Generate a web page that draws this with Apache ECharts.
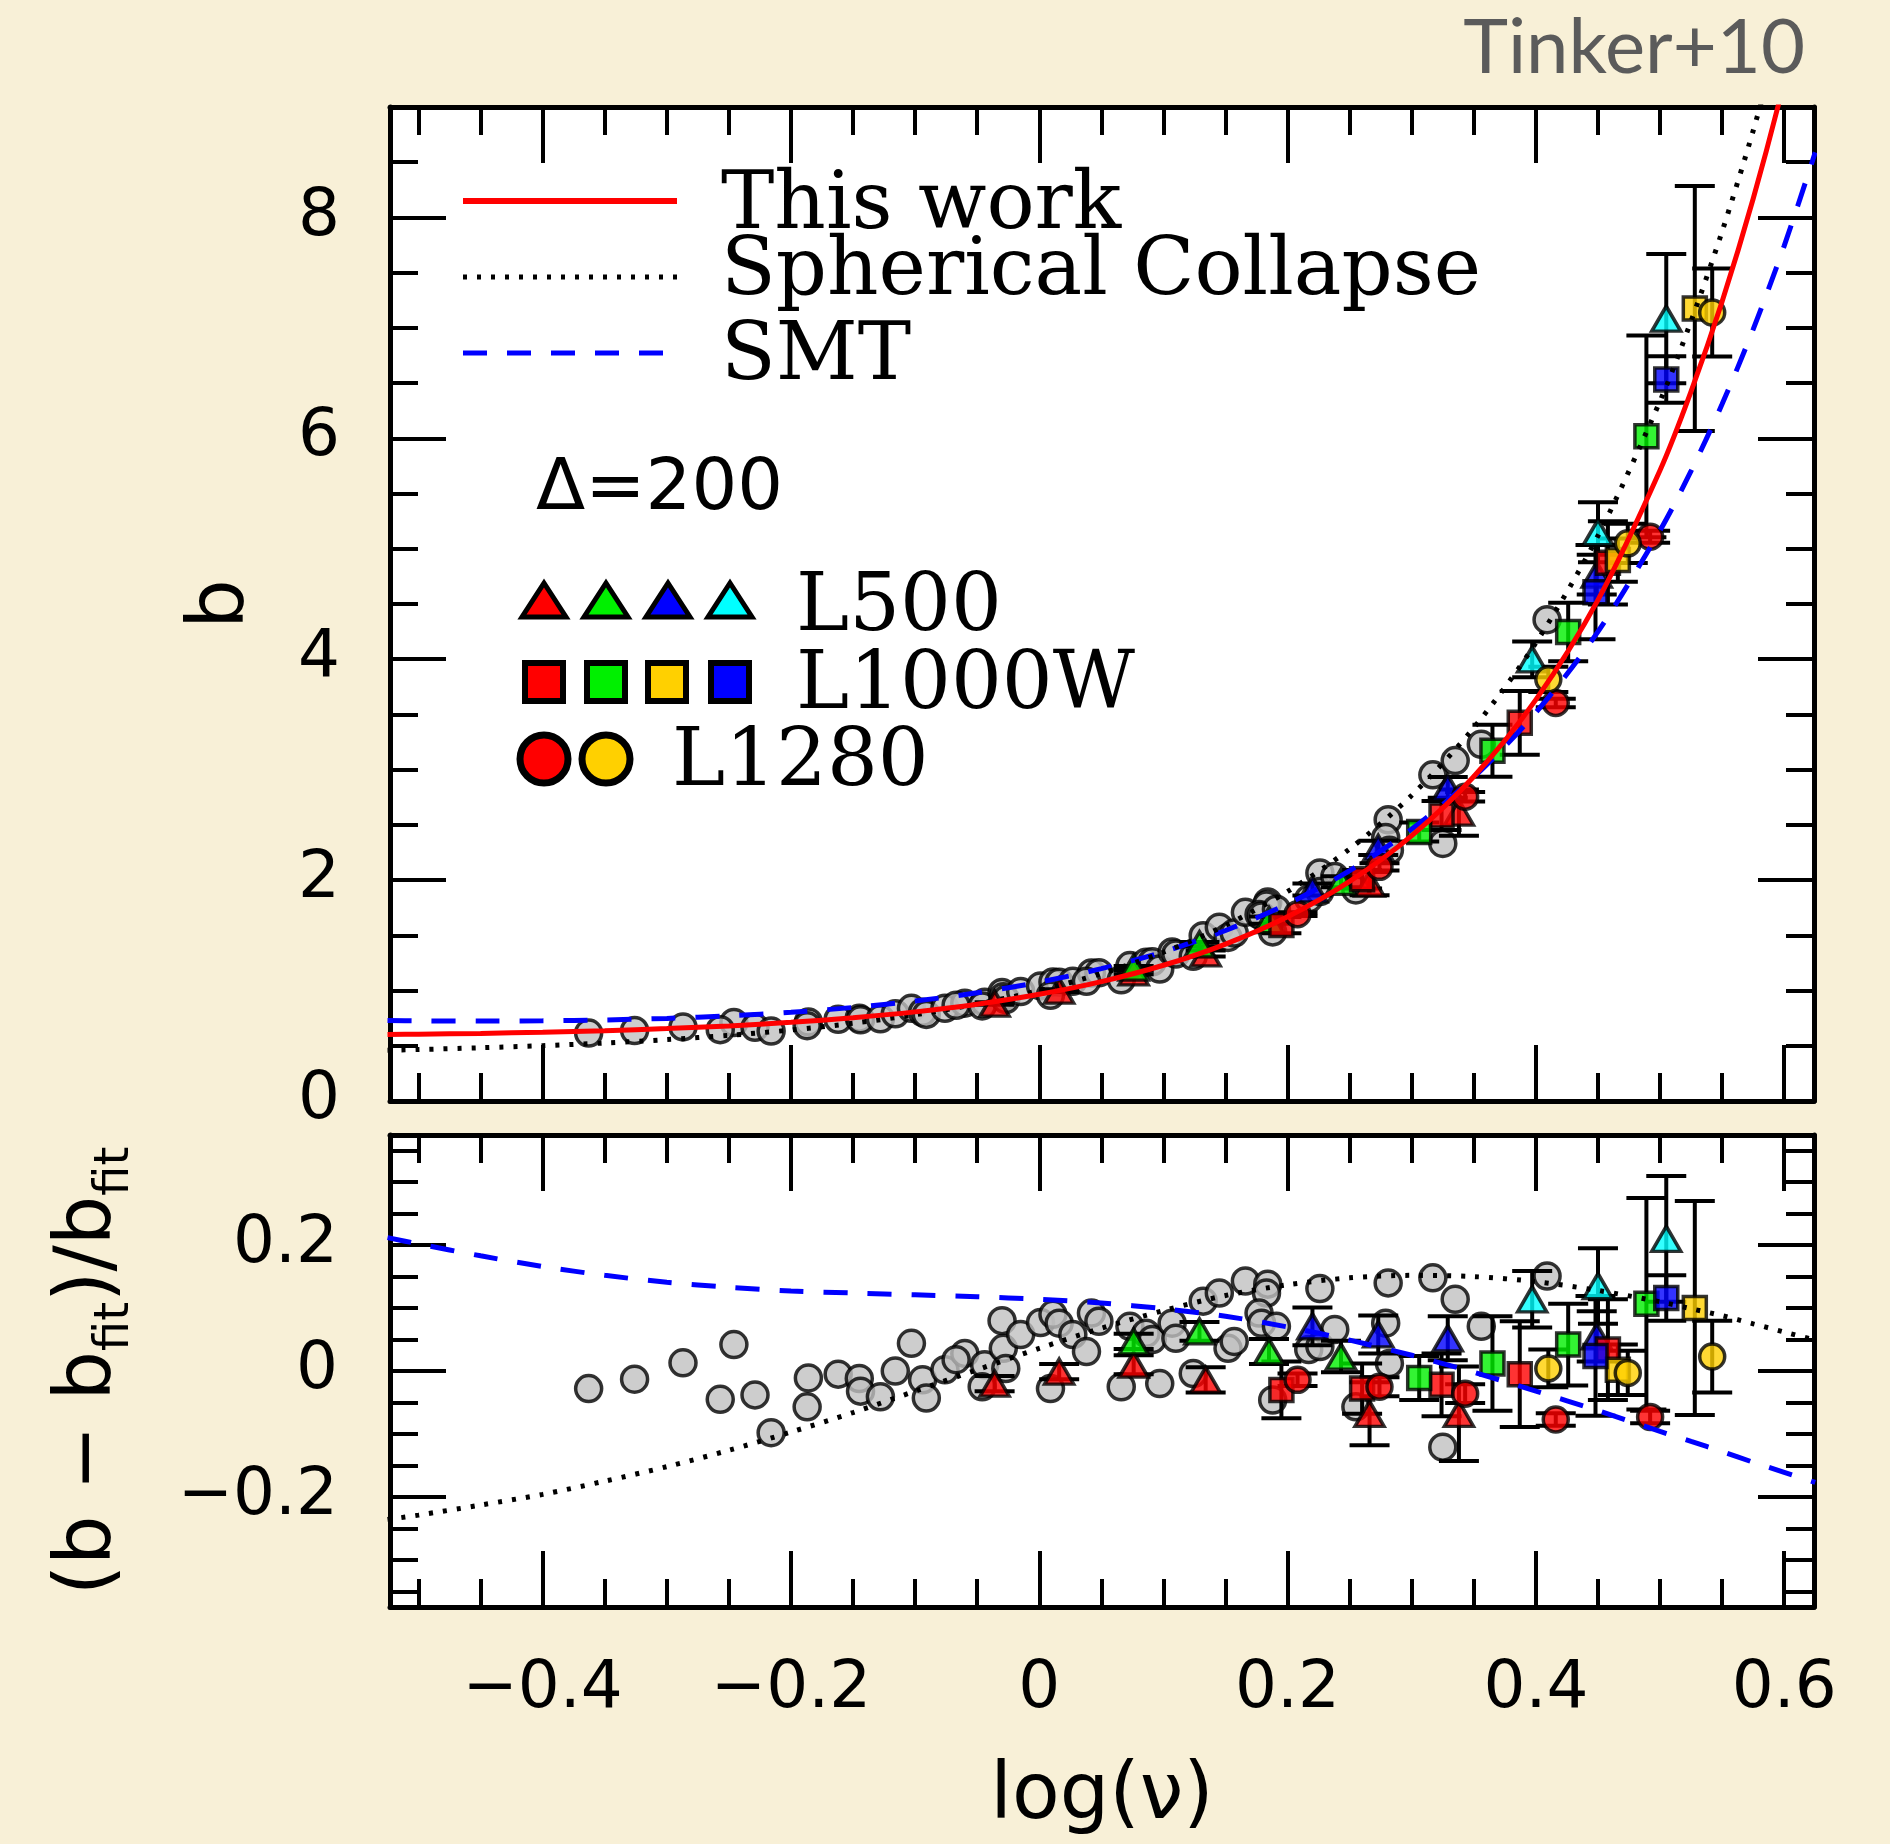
<!DOCTYPE html>
<html>
<head>
<meta charset="utf-8">
<title>Halo bias vs peak height</title>
<script src="https://cdn.jsdelivr.net/npm/echarts@6/dist/echarts.min.js"></script>
<style>
  html, body { margin: 0; padding: 0; background: #f8f0d7; }
  #chart { width: 1890px; height: 1844px; }
</style>
</head>
<body>
<div id="chart"></div>
<script>
// ---------------- data ----------------
// axis ticks (log nu, bias b, residual)
const logNuTicks = [-0.4, -0.2, 0, 0.2, 0.4, 0.6];
const logNuMinorTicks = [-0.5, -0.45, -0.35, -0.3, -0.25, -0.15, -0.1, -0.05, 0.05, 0.1, 0.15, 0.25, 0.3, 0.35, 0.45, 0.5, 0.55];
const biasTicks = [0, 2, 4, 6, 8];
const biasMinorTicks = [0.5, 1, 1.5, 2.5, 3, 3.5, 4.5, 5, 5.5, 6.5, 7, 7.5, 8.5];
const residTicks = [-0.2, 0, 0.2];
const residMinorTicks = [-0.35, -0.3, -0.25, -0.15, -0.1, -0.05, 0.05, 0.1, 0.15, 0.25, 0.3, 0.35];

// model curves sampled in log(nu)
const curveLogNu = [-0.525, -0.5, -0.45, -0.4, -0.35, -0.3, -0.25, -0.2, -0.15, -0.1, -0.05, 0, 0.05, 0.1, 0.15, 0.2, 0.25, 0.3, 0.35, 0.4, 0.45, 0.5, 0.525, 0.55, 0.575, 0.6, 0.625];
const fitBias = [0.602, 0.605, 0.612, 0.623, 0.637, 0.656, 0.680, 0.712, 0.754, 0.807, 0.876, 0.966, 1.081, 1.229, 1.421, 1.668, 1.988, 2.402, 2.938, 3.634, 4.537, 5.711, 6.425, 7.239, 8.169, 9.229, 10.44];
const scBias = [0.460, 0.466, 0.482, 0.501, 0.525, 0.556, 0.594, 0.643, 0.704, 0.781, 0.878, 1.000, 1.154, 1.347, 1.590, 1.897, 2.282, 2.768, 3.380, 4.149, 5.118, 6.338, 7.062, 7.874, 8.785, 9.805, 10.954];
const smtBias = [0.729, 0.726, 0.724, 0.726, 0.734, 0.748, 0.771, 0.803, 0.847, 0.905, 0.980, 1.076, 1.198, 1.351, 1.544, 1.785, 2.086, 2.462, 2.932, 3.518, 4.250, 5.166, 5.706, 6.310, 6.987, 7.743, 8.589];
const scResid = [-0.236, -0.229, -0.213, -0.196, -0.175, -0.152, -0.126, -0.097, -0.066, -0.032, 0.002, 0.036, 0.068, 0.096, 0.120, 0.137, 0.148, 0.152, 0.150, 0.142, 0.128, 0.110, 0.099, 0.088, 0.075, 0.062, 0.049];
const smtResid = [0.212, 0.202, 0.183, 0.166, 0.152, 0.141, 0.133, 0.127, 0.124, 0.121, 0.118, 0.114, 0.108, 0.099, 0.087, 0.070, 0.049, 0.025, -0.002, -0.032, -0.063, -0.096, -0.112, -0.128, -0.145, -0.161, -0.177];

// grey halo samples: [log nu, b, (b - b_fit)/b_fit]
const greyHalos = [
  [-0.363, 0.615, -0.028], [-0.326, 0.638, -0.013], [-0.287, 0.671, 0.013], [-0.246, 0.711, 0.042],
  [-0.257, 0.646, -0.045], [-0.229, 0.667, -0.038], [-0.216, 0.633, -0.098], [-0.186, 0.716, -0.011],
  [-0.187, 0.682, -0.057], [-0.162, 0.740, -0.005], [-0.145, 0.750, -0.012], [-0.144, 0.736, -0.032],
  [-0.128, 0.745, -0.041], [-0.116, 0.790, 0.000], [-0.103, 0.839, 0.044], [-0.094, 0.804, -0.014],
  [-0.091, 0.784, -0.043], [-0.076, 0.840, 0.002], [-0.060, 0.886, 0.028], [-0.067, 0.867, 0.018],
  [-0.044, 0.895, 0.010], [-0.046, 0.861, -0.025], [-0.030, 0.982, 0.080], [-0.029, 0.944, 0.036],
  [-0.027, 0.918, 0.004], [-0.015, 0.991, 0.058], [0.001, 1.042, 0.077], [0.011, 1.078, 0.090],
  [0.016, 1.076, 0.076], [0.027, 1.084, 0.058], [0.009, 0.957, -0.028], [0.042, 1.159, 0.092],
  [0.048, 1.161, 0.079], [0.038, 1.084, 0.031], [0.066, 1.097, -0.025], [0.073, 1.226, 0.071],
  [0.086, 1.256, 0.060], [0.091, 1.261, 0.050], [0.097, 1.195, -0.020], [0.107, 1.350, 0.076],
  [0.110, 1.331, 0.052], [0.124, 1.310, -0.004], [0.132, 1.497, 0.111], [0.145, 1.574, 0.124],
  [0.152, 1.481, 0.036], [0.157, 1.521, 0.047], [0.166, 1.708, 0.143], [0.184, 1.802, 0.138],
  [0.183, 1.774, 0.124], [0.177, 1.689, 0.092], [0.179, 1.676, 0.076], [0.191, 1.736, 0.071],
  [0.188, 1.531, -0.046], [0.226, 2.064, 0.131], [0.217, 1.830, 0.034], [0.226, 1.896, 0.039],
  [0.238, 2.032, 0.066], [0.281, 2.547, 0.140], [0.317, 2.953, 0.148], [0.335, 3.082, 0.114],
  [0.279, 2.385, 0.076], [0.282, 2.270, 0.012], [0.255, 1.911, -0.057], [0.325, 2.332, -0.121],
  [0.356, 3.230, 0.071], [0.409, 4.358, 0.151]
];

// simulation sets: [log nu, b, b error, resid, resid error]
const L500_red = [
  [-0.036, 0.882, 0.011, -0.020, 0.012], [0.016, 0.999, 0.012, -0.001, 0.012], [0.076, 1.165, 0.017, 0.010, 0.015],
  [0.134, 1.336, 0.027, -0.014, 0.020], [0.266, 1.968, 0.106, -0.068, 0.050], [0.338, 2.611, 0.210, -0.068, 0.075]
];
const L500_green = [
  [0.076, 1.208, 0.014, 0.047, 0.012], [0.129, 1.419, 0.021, 0.063, 0.015],
  [0.185, 1.638, 0.032, 0.031, 0.020], [0.243, 1.985, 0.049, 0.023, 0.025]
];
const L500_blue = [
  [0.220, 1.915, 0.054, 0.071, 0.030], [0.273, 2.292, 0.065, 0.058, 0.030],
  [0.329, 2.839, 0.094, 0.052, 0.035], [0.449, 4.766, 0.180, 0.055, 0.040]
];
const L500_cyan = [
  [0.397, 3.999, 0.162, 0.114, 0.045], [0.450, 5.150, 0.272, 0.135, 0.060], [0.505, 7.083, 0.585, 0.210, 0.100]
];
const L1000W_red = [
  [0.195, 1.593, 0.074, -0.030, 0.045], [0.260, 2.008, 0.083, -0.028, 0.040], [0.324, 2.585, 0.132, -0.022, 0.050],
  [0.387, 3.424, 0.289, -0.005, 0.084], [0.458, 4.873, 0.377, 0.034, 0.080]
];
const L1000W_green = [
  [0.306, 2.435, 0.086, -0.011, 0.035], [0.365, 3.171, 0.235, 0.012, 0.075],
  [0.426, 4.247, 0.265, 0.042, 0.065], [0.489, 6.018, 0.913, 0.107, 0.168]
];
const L1000W_gold = [
  [0.466, 4.898, 0.196, 0.002, 0.040], [0.528, 7.175, 1.109, 0.100, 0.170]
];
const L1000W_blue = [
  [0.448, 4.607, 0.427, 0.024, 0.095], [0.505, 6.533, 0.211, 0.116, 0.036]
];
const L1280_red = [
  [0.208, 1.692, 0.017, -0.014, 0.010], [0.274, 2.120, 0.033, -0.025, 0.015], [0.343, 2.755, 0.043, -0.036, 0.015],
  [0.416, 3.604, 0.039, -0.077, 0.010], [0.492, 5.109, 0.055, -0.073, 0.010]
];
const L1280_gold = [
  [0.410, 3.818, 0.114, 0.004, 0.030], [0.474, 5.049, 0.177, -0.003, 0.035], [0.542, 7.139, 0.398, 0.023, 0.057]
];

// ---------------- styling ----------------
const RED = '#ff0000', GREEN = '#00f000', BLUE = '#0000ff', CYAN = '#00ffff', GOLD = '#ffd000', GREY = '#c0c0c0';
const SANS = '"DejaVu Sans", "Liberation Sans", sans-serif';
const SERIF = '"DejaVu Serif", "Liberation Serif", serif';
const LOGNU_RANGE = [-0.523, 0.624];
const BIAS_RANGE = [0, 9];
const RESID_RANGE = [-0.375, 0.375];

const sets = [
  { rows: L500_red, symbol: 'triangle', color: RED },
  { rows: L500_green, symbol: 'triangle', color: GREEN },
  { rows: L500_blue, symbol: 'triangle', color: BLUE },
  { rows: L500_cyan, symbol: 'triangle', color: CYAN },
  { rows: L1000W_red, symbol: 'rect', color: RED },
  { rows: L1000W_green, symbol: 'rect', color: GREEN },
  { rows: L1000W_gold, symbol: 'rect', color: GOLD },
  { rows: L1000W_blue, symbol: 'rect', color: BLUE },
  { rows: L1280_red, symbol: 'circle', color: RED },
  { rows: L1280_gold, symbol: 'circle', color: GOLD }
];
const symbolSizes = { triangle: [29, 25], rect: 23, circle: 25 };

function fmtTick(v) {
  if (v === 0) return '0';
  return (v < 0 ? '\u2212' : '') + Math.abs(v).toFixed(1);
}

// one axis carrying ticks (and optionally the frame line / labels)
function makeAxis(gridIndex, position, range, ticks, tickLen, frame, extra) {
  return Object.assign({
    type: 'value', gridIndex, position, min: range[0], max: range[1],
    axisLine: { show: frame, onZero: false, lineStyle: { color: '#000', width: 5 } },
    axisTick: { show: true, inside: true, length: tickLen, customValues: ticks,
                lineStyle: { color: '#000', width: 4 } },
    axisLabel: { show: false },
    splitLine: { show: false },
    axisPointer: { show: false }
  }, extra || {});
}
const MAJ = 56, MIN = 28;

const labelStyle = { fontSize: 66, fontFamily: SANS, color: '#000' };

const xAxes = [
  // upper panel (grid 0)
  makeAxis(0, 'bottom', LOGNU_RANGE, logNuTicks, MAJ, true),
  makeAxis(0, 'bottom', LOGNU_RANGE, logNuMinorTicks, MIN, false),
  makeAxis(0, 'top', LOGNU_RANGE, logNuTicks, MAJ, true),
  makeAxis(0, 'top', LOGNU_RANGE, logNuMinorTicks, MIN, false),
  // lower panel (grid 1)
  makeAxis(1, 'bottom', LOGNU_RANGE, logNuTicks, MAJ, true, {
    axisLabel: Object.assign({ show: true, customValues: logNuTicks, margin: 50, formatter: fmtTick }, labelStyle),
    name: 'log(\u03bd)', nameLocation: 'middle', nameGap: 152,
    nameTextStyle: { fontSize: 78, fontFamily: SANS, color: '#000' }
  }),
  makeAxis(1, 'bottom', LOGNU_RANGE, logNuMinorTicks, MIN, false),
  makeAxis(1, 'top', LOGNU_RANGE, logNuTicks, MAJ, true),
  makeAxis(1, 'top', LOGNU_RANGE, logNuMinorTicks, MIN, false)
];

const yAxes = [
  makeAxis(0, 'left', BIAS_RANGE, biasTicks, MAJ, true, {
    axisLabel: Object.assign({ show: true, customValues: biasTicks, margin: 50, formatter: (v) => String(v) }, labelStyle),
    name: 'b', nameLocation: 'middle', nameRotate: 90, nameGap: 128,
    nameTextStyle: { fontSize: 78, fontFamily: SANS, color: '#000' }
  }),
  makeAxis(0, 'left', BIAS_RANGE, biasMinorTicks, MIN, false),
  makeAxis(0, 'right', BIAS_RANGE, biasTicks, MAJ, true),
  makeAxis(0, 'right', BIAS_RANGE, biasMinorTicks, MIN, false),
  makeAxis(1, 'left', RESID_RANGE, residTicks, MAJ, true, {
    axisLabel: Object.assign({ show: true, customValues: residTicks, margin: 52, formatter: fmtTick }, labelStyle),
    name: '(b \u2212 b{s|fit})/b{s|fit}', nameLocation: 'middle', nameRotate: 90, nameGap: 250,
    nameTextStyle: {
      fontSize: 78, fontFamily: SANS, color: '#000', lineHeight: 100,
      rich: { s: { fontSize: 48, fontFamily: SANS, color: '#000', lineHeight: 50, verticalAlign: 'bottom' } }
    }
  }),
  makeAxis(1, 'left', RESID_RANGE, residMinorTicks, MIN, false),
  makeAxis(1, 'right', RESID_RANGE, residTicks, MAJ, true),
  makeAxis(1, 'right', RESID_RANGE, residMinorTicks, MIN, false)
];

// vertical error bars with caps
function errorBar(params, api) {
  const x = api.value(0);
  const lo = api.coord([x, api.value(1)]);
  const hi = api.coord([x, api.value(2)]);
  const half = 20;
  const style = { stroke: '#000', lineWidth: 4 };
  return {
    type: 'group',
    children: [
      { type: 'line', shape: { x1: lo[0], y1: lo[1], x2: hi[0], y2: hi[1] }, style },
      { type: 'line', shape: { x1: lo[0] - half, y1: lo[1], x2: lo[0] + half, y2: lo[1] }, style },
      { type: 'line', shape: { x1: hi[0] - half, y1: hi[1], x2: hi[0] + half, y2: hi[1] }, style }
    ]
  };
}

function panelSeries(axisIdx, valCol, errCol, curves) {
  const out = [];
  out.push({
    type: 'scatter', xAxisIndex: axisIdx, yAxisIndex: axisIdx, z: 3, silent: true,
    symbol: 'circle', symbolSize: 26,
    itemStyle: { color: GREY, borderColor: '#000', borderWidth: 3.5 },
    data: greyHalos.map(r => [r[0], valCol === 1 ? r[1] : r[2]])
  });
  sets.forEach(s => {
    out.push({
      type: 'custom', xAxisIndex: axisIdx, yAxisIndex: axisIdx, z: 4, silent: true, clip: true,
      renderItem: errorBar,
      encode: { x: 0, y: [1, 2] },
      data: s.rows.map(r => [r[0], r[valCol] - r[errCol], r[valCol] + r[errCol]])
    });
  });
  sets.forEach(s => {
    out.push({
      type: 'scatter', xAxisIndex: axisIdx, yAxisIndex: axisIdx, z: 5, silent: true,
      symbol: s.symbol, symbolSize: symbolSizes[s.symbol],
      itemStyle: { color: s.color, borderColor: '#000', borderWidth: 3.5, borderJoin: 'miter' },
      data: s.rows.map(r => [r[0], r[valCol]])
    });
  });
  curves.forEach((c, i) => {
    out.push({
      type: 'line', xAxisIndex: axisIdx, yAxisIndex: axisIdx, z: 6 + i, silent: true,
      showSymbol: false, smooth: 0.3, clip: true,
      lineStyle: c.style,
      data: curveLogNu.map((x, k) => [x, c.values[k]])
    });
  });
  return out;
}

const smtStyle = { color: BLUE, width: 5, type: [24, 20], cap: 'butt' };
const scStyle = { color: '#000', width: 5, type: [4, 10], cap: 'butt' };
const fitStyle = { color: RED, width: 5 };

const series = [].concat(
  panelSeries(0, 1, 2, [
    { values: smtBias, style: smtStyle },
    { values: scBias, style: scStyle },
    { values: fitBias, style: fitStyle }
  ]),
  panelSeries(4, 3, 4, [
    { values: smtResid, style: smtStyle },
    { values: scResid, style: scStyle }
  ])
);

// in-panel key
function keyText(x, y, text, size, family, align) {
  return { type: 'text', x, y, z: 100, silent: true,
           style: { text, fill: '#000', fontSize: size, fontFamily: family,
                    align: align || 'left', verticalAlign: 'middle' } };
}
function keyTriangle(cx, cy, fill) {
  return { type: 'polygon', z: 100, silent: true,
           shape: { points: [[cx, cy - 17], [cx + 22, cy + 17], [cx - 22, cy + 17]] },
           style: { fill, stroke: '#000', lineWidth: 5, lineJoin: 'miter' } };
}
function keySquare(cx, cy, fill) {
  return { type: 'rect', z: 100, silent: true,
           shape: { x: cx - 19, y: cy - 19, width: 38, height: 38 },
           style: { fill, stroke: '#000', lineWidth: 6 } };
}
function keyCircle(cx, cy, fill) {
  return { type: 'circle', z: 100, silent: true,
           shape: { cx, cy, r: 24 },
           style: { fill, stroke: '#000', lineWidth: 7 } };
}

const graphic = [
  { type: 'line', z: 100, silent: true, shape: { x1: 463, y1: 201, x2: 677, y2: 201 }, style: { stroke: RED, lineWidth: 6 } },
  { type: 'line', z: 100, silent: true, shape: { x1: 463, y1: 277, x2: 677, y2: 277 }, style: { stroke: '#000', lineWidth: 5, lineDash: [4, 10] } },
  { type: 'line', z: 100, silent: true, shape: { x1: 463, y1: 353, x2: 677, y2: 353 }, style: { stroke: BLUE, lineWidth: 5, lineDash: [24, 20] } },
  keyText(721, 207, 'This work', 80, SERIF),
  keyText(721, 273, 'Spherical Collapse', 80, SERIF),
  keyText(721, 358, 'SMT', 80, SERIF),
  keyText(536, 490, '\u0394=200', 72, SANS),
  keyTriangle(544, 600, RED), keyTriangle(606, 600, GREEN), keyTriangle(668, 600, BLUE), keyTriangle(730, 600, CYAN),
  keyText(796, 609, 'L500', 80, SERIF),
  keySquare(544, 682, RED), keySquare(606, 682, GREEN), keySquare(667, 682, GOLD), keySquare(730, 682, BLUE),
  keyText(796, 687, 'L1000W', 80, SERIF),
  keyCircle(544, 759, RED), keyCircle(606, 759, GOLD),
  keyText(672, 764, 'L1280', 80, SERIF),
  { type: 'text', x: 1805, y: 48, z: 100, silent: true,
    style: { text: 'Tinker+10', fill: '#5b5b5b', fontSize: 76, fontFamily: 'Lato, "Open Sans", sans-serif',
             align: 'right', verticalAlign: 'middle' } }
];

const chart = echarts.init(document.getElementById('chart'), null, { renderer: 'canvas' });
chart.setOption({
  backgroundColor: '#f8f0d7',
  animation: false,
  grid: [
    { left: 390, top: 107, width: 1424, height: 994, show: true, backgroundColor: '#ffffff', borderWidth: 0 },
    { left: 390, top: 1135, width: 1424, height: 472, show: true, backgroundColor: '#ffffff', borderWidth: 0 }
  ],
  xAxis: xAxes,
  yAxis: yAxes,
  series,
  graphic
});
</script>
</body>
</html>
